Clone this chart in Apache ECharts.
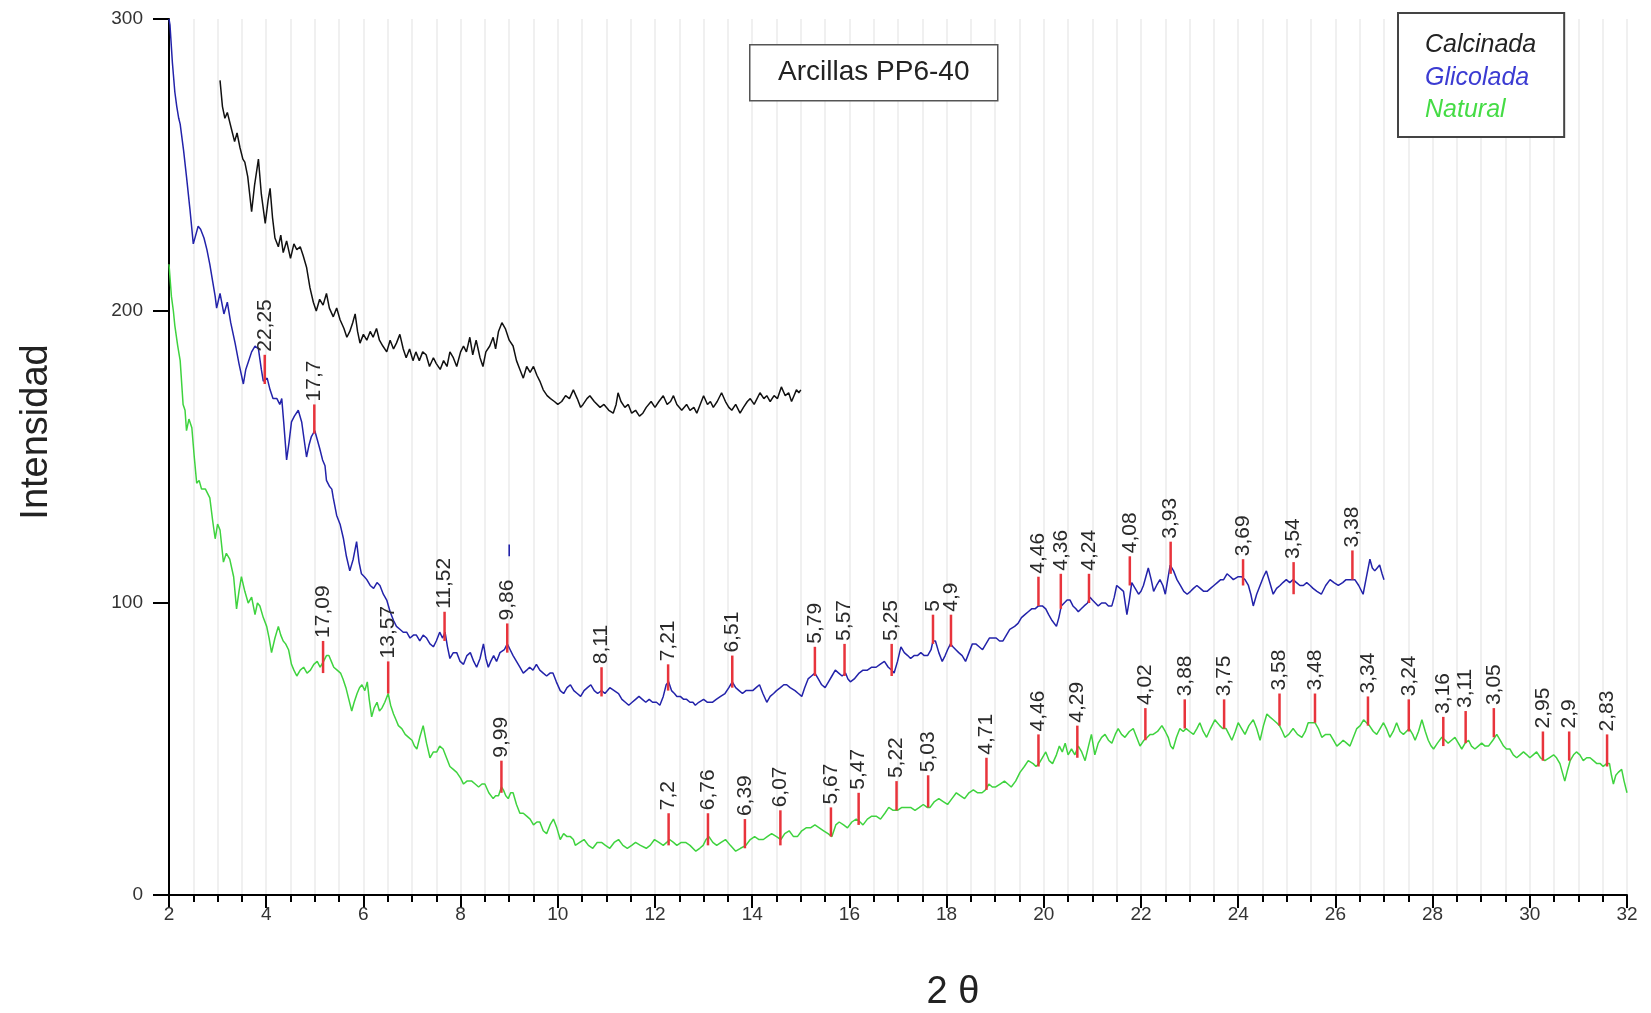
<!DOCTYPE html>
<html>
<head>
<meta charset="utf-8">
<title>Arcillas PP6-40</title>
<script src="https://cdn.jsdelivr.net/npm/echarts@6/dist/echarts.min.js"></script>
<style>
  html, body { margin: 0; padding: 0; background: #fff; }
  #chart { width: 1651px; height: 1013px; }
</style>
</head>
<body>
<div id="chart"></div>
<script>
// curvas de difraccion (2 theta, intensidad)
const calcX = [3.05,3.10,3.15,3.20,3.29,3.35,3.40,3.46,3.52,3.56,3.62,3.70,3.76,3.84,3.90,3.98,4.04,4.08,4.13,4.18,4.25,4.30,4.35,4.42,4.50,4.57,4.63,4.70,4.76,4.83,4.90,4.97,5.03,5.10,5.17,5.24,5.30,5.38,5.45,5.52,5.60,5.66,5.72,5.78,5.83,5.88,5.93,6.00,6.07,6.14,6.20,6.27,6.33,6.40,6.48,6.55,6.62,6.68,6.75,6.82,6.88,6.95,7.02,7.08,7.15,7.22,7.29,7.36,7.44,7.50,7.58,7.65,7.72,7.78,7.85,7.92,8.00,8.06,8.12,8.19,8.25,8.32,8.40,8.46,8.52,8.60,8.67,8.72,8.78,8.85,8.92,9.00,9.08,9.15,9.22,9.29,9.36,9.43,9.50,9.57,9.63,9.70,9.78,9.85,9.93,10.00,10.08,10.16,10.24,10.32,10.40,10.47,10.52,10.60,10.66,10.75,10.87,10.95,11.05,11.14,11.20,11.24,11.30,11.38,11.45,11.52,11.60,11.68,11.75,11.82,11.92,12.00,12.08,12.17,12.25,12.32,12.38,12.45,12.55,12.65,12.72,12.80,12.86,12.93,13.00,13.08,13.14,13.20,13.28,13.37,13.45,13.52,13.58,13.66,13.75,13.82,13.90,13.96,14.04,14.10,14.16,14.24,14.30,14.37,14.45,14.52,14.60,14.68,14.75,14.81,14.86,14.91,14.96,15.00];
const calcY = [279,270,266,268,262,258,261,256,252,251,246,234,243,252,240,230,238,242,232,225,222,226,220,224,218,223,221,222,219,215,208,203,200,204,202,206,201,198,201,197,194,191,193,196,199,193,189,192,190,193,191,194,190,188,186,190,187,189,192,187,184,187,183,186,183,186,185,181,184,182,180,183,181,186,184,181,186,188,186,191,185,190,184,181,186,188,191,187,193,196,194,190,188,183,180,177,181,179,181,178,176,173,171,170,169,168,169,171,170,173,170,167,168,170,171,169,167,168,166,165,168,172,169,167,168,165,166,164,165,167,169,167,169,171,168,169,171,168,166,168,166,167,165,168,171,168,169,167,169,172,169,167,166,168,165,167,169,170,168,170,172,170,171,169,171,170,174,171,172,169,171,173,172,173];

const glicX = [2.00,2.02,2.07,2.12,2.16,2.20,2.23,2.30,2.36,2.43,2.50,2.55,2.60,2.65,2.72,2.78,2.84,2.90,2.95,2.98,3.05,3.13,3.20,3.27,3.36,3.44,3.53,3.58,3.64,3.70,3.77,3.84,3.90,3.94,4.02,4.08,4.14,4.22,4.28,4.32,4.36,4.42,4.47,4.52,4.58,4.66,4.73,4.78,4.83,4.88,4.93,5.00,5.05,5.10,5.16,5.21,5.24,5.30,5.35,5.38,5.45,5.52,5.59,5.65,5.72,5.79,5.86,5.91,5.96,6.02,6.07,6.14,6.21,6.28,6.34,6.41,6.48,6.55,6.62,6.68,6.75,6.82,6.89,6.96,7.03,7.09,7.16,7.23,7.30,7.37,7.44,7.50,7.57,7.63,7.68,7.73,7.78,7.85,7.92,7.99,8.06,8.13,8.20,8.27,8.33,8.40,8.47,8.52,8.57,8.62,8.68,8.74,8.81,8.90,8.96,9.02,9.08,9.15,9.22,9.29,9.36,9.42,9.49,9.56,9.63,9.70,9.77,9.84,9.90,9.97,10.05,10.12,10.19,10.26,10.33,10.40,10.47,10.54,10.61,10.68,10.75,10.82,10.90,10.97,11.07,11.16,11.25,11.32,11.39,11.46,11.53,11.60,11.67,11.74,11.81,11.88,11.95,12.03,12.10,12.17,12.23,12.28,12.34,12.40,12.45,12.52,12.59,12.65,12.72,12.78,12.83,12.90,13.00,13.08,13.18,13.26,13.35,13.44,13.52,13.59,13.66,13.73,13.80,13.87,13.94,14.01,14.08,14.15,14.22,14.30,14.37,14.44,14.50,14.58,14.65,14.71,14.78,14.88,14.95,15.02,15.08,15.15,15.22,15.29,15.36,15.43,15.50,15.57,15.64,15.71,15.78,15.85,15.92,15.97,16.02,16.10,16.20,16.28,16.37,16.46,16.55,16.63,16.72,16.80,16.87,16.92,16.99,17.06,17.13,17.20,17.26,17.33,17.40,17.47,17.54,17.61,17.68,17.72,17.77,17.84,17.91,17.97,18.02,18.08,18.13,18.19,18.25,18.32,18.39,18.46,18.53,18.60,18.67,18.74,18.81,18.88,18.95,19.02,19.09,19.16,19.23,19.30,19.40,19.47,19.54,19.61,19.68,19.75,19.82,19.89,19.97,20.04,20.10,20.17,20.26,20.31,20.36,20.42,20.48,20.54,20.60,20.66,20.71,20.77,20.83,20.90,20.95,21.00,21.06,21.12,21.19,21.27,21.33,21.40,21.45,21.50,21.57,21.64,21.71,21.76,21.81,21.88,21.95,22.00,22.05,22.10,22.15,22.21,22.26,22.32,22.39,22.45,22.50,22.55,22.60,22.67,22.74,22.81,22.88,22.95,23.02,23.08,23.15,23.22,23.29,23.36,23.43,23.50,23.57,23.64,23.70,23.77,23.84,23.90,23.94,24.00,24.07,24.14,24.21,24.26,24.31,24.38,24.45,24.52,24.58,24.65,24.72,24.79,24.86,24.92,24.99,25.06,25.13,25.20,25.27,25.34,25.41,25.48,25.54,25.62,25.71,25.80,25.89,25.97,26.06,26.15,26.22,26.27,26.34,26.40,26.48,26.57,26.64,26.71,26.76,26.81,26.86,26.91,26.96,27.00];
const glicY = [300,298,285,275,270,266,264,255,246,235,223,226,229,228,225,221,216,210,205,201,206,199,203,196,189,182,175,180,183,186,188,187,180,176,177,173,170,170,168,170,162,149,155,162,164,166,162,156,150,154,157,159,156,153,149,147,142,140,139,136,130,127,122,116,111,115,121,114,110,109,108,106,105,107,106,103,101,97,94,92,91,90,90,88,89,89,87,89,88,86,85,87,90,88,90,85,81,83,83,80,79,82,83,80,78,81,86,81,78,80,82,80,83,84,86,84,82,80,78,76,77,78,77,79,77,76,75,76,76,73,70,69,71,72,70,69,68,70,71,72,70,69,70,69,71,70,69,67,66,65,66,67,68,67,66,67,66,66,65,68,72,73,70,69,68,68,67,67,66,66,65,66,67,66,66,67,68,69,71,73,71,70,69,70,70,70,71,72,69,66,68,69,70,71,72,72,71,70,69,68,71,74,75,76,74,72,71,73,75,77,76,75,76,74,73,74,76,77,77,78,78,79,80,78,77,76,80,85,83,82,81,82,82,83,82,82,84,87,87,83,80,82,84,86,85,84,83,82,80,83,86,86,85,84,86,88,88,88,87,87,89,91,92,93,95,96,97,98,98,99,99,98,96,94,92,95,99,100,101,101,99,98,97,98,99,100,102,101,100,99,100,100,99,99,102,106,105,104,96,101,107,105,103,104,106,109,112,108,104,106,108,106,103,108,113,111,108,106,104,103,104,105,106,105,104,104,105,106,107,108,108,110,109,108,108,109,109,108,106,103,99,103,106,109,111,107,103,105,106,107,108,107,108,107,106,106,107,106,105,104,103,106,108,107,106,107,108,108,108,108,106,103,109,115,112,111,112,113,110,108];

const natX = [2.00,2.05,2.09,2.12,2.18,2.23,2.29,2.33,2.36,2.41,2.47,2.52,2.57,2.62,2.67,2.75,2.84,2.90,2.95,3.00,3.05,3.12,3.18,3.25,3.33,3.39,3.44,3.49,3.56,3.63,3.70,3.77,3.82,3.87,3.94,4.01,4.06,4.11,4.18,4.25,4.30,4.35,4.40,4.46,4.52,4.57,4.63,4.70,4.77,4.84,4.91,4.98,5.05,5.11,5.18,5.24,5.29,5.34,5.39,5.46,5.53,5.58,5.64,5.70,5.76,5.81,5.87,5.92,5.97,6.03,6.08,6.12,6.17,6.22,6.28,6.33,6.38,6.44,6.51,6.56,6.62,6.67,6.72,6.79,6.86,6.93,7.00,7.05,7.10,7.16,7.23,7.30,7.37,7.44,7.51,7.57,7.64,7.71,7.78,7.85,7.92,8.00,8.06,8.13,8.23,8.30,8.37,8.44,8.50,8.58,8.67,8.72,8.78,8.84,8.88,8.93,8.98,9.03,9.08,9.15,9.22,9.29,9.36,9.43,9.50,9.57,9.63,9.70,9.77,9.84,9.91,9.98,10.05,10.12,10.19,10.26,10.32,10.36,10.45,10.54,10.63,10.72,10.81,10.90,10.98,11.07,11.16,11.25,11.34,11.43,11.52,11.60,11.70,11.82,11.90,11.99,12.08,12.17,12.24,12.30,12.38,12.45,12.54,12.63,12.72,12.84,12.92,12.99,13.05,13.11,13.19,13.27,13.36,13.45,13.55,13.66,13.76,13.87,13.96,14.05,14.14,14.23,14.31,14.40,14.50,14.59,14.67,14.76,14.85,14.93,15.02,15.11,15.20,15.29,15.38,15.47,15.56,15.64,15.72,15.79,15.88,15.96,16.05,16.14,16.22,16.28,16.37,16.46,16.55,16.64,16.73,16.81,16.90,16.99,17.08,17.17,17.26,17.35,17.44,17.52,17.60,17.66,17.75,17.84,17.93,18.02,18.11,18.20,18.28,18.37,18.46,18.55,18.64,18.73,18.80,18.87,18.94,19.01,19.10,19.19,19.26,19.33,19.42,19.51,19.60,19.68,19.78,19.84,19.90,19.97,20.04,20.11,20.18,20.26,20.32,20.38,20.44,20.50,20.57,20.64,20.71,20.78,20.85,20.92,20.98,21.05,21.12,21.19,21.26,21.33,21.40,21.47,21.53,21.60,21.67,21.76,21.84,21.91,21.98,22.06,22.13,22.19,22.25,22.34,22.43,22.50,22.56,22.61,22.66,22.73,22.80,22.87,22.93,23.00,23.08,23.15,23.21,23.28,23.35,23.43,23.52,23.57,23.62,23.68,23.75,23.81,23.87,23.94,24.00,24.07,24.14,24.22,24.31,24.38,24.45,24.52,24.59,24.65,24.72,24.79,24.85,24.91,24.96,25.04,25.13,25.22,25.31,25.38,25.44,25.51,25.58,25.65,25.72,25.80,25.89,25.96,26.03,26.10,26.16,26.23,26.30,26.37,26.44,26.51,26.58,26.64,26.70,26.78,26.85,26.92,26.99,27.05,27.12,27.19,27.26,27.33,27.40,27.46,27.52,27.59,27.64,27.71,27.78,27.85,27.91,27.97,28.02,28.10,28.19,28.26,28.32,28.39,28.46,28.53,28.60,28.67,28.74,28.80,28.87,28.94,29.01,29.08,29.15,29.24,29.32,29.39,29.46,29.52,29.59,29.66,29.73,29.80,29.87,29.94,30.00,30.07,30.14,30.22,30.31,30.40,30.49,30.55,30.62,30.67,30.72,30.78,30.83,30.90,30.96,31.03,31.10,31.17,31.24,31.31,31.38,31.45,31.51,31.58,31.64,31.68,31.72,31.77,31.82,31.89,31.94,32.00];
const natY = [216,205,200,195,188,183,168,166,159,163,160,150,141,142,139,139,136,128,122,127,125,114,117,115,109,98,104,109,104,100,102,96,100,99,95,92,88,83,88,92,89,87,86,84,79,77,75,77,78,76,77,79,80,78,80,82,82,80,78,77,76,74,71,67,63,66,69,71,72,70,73,67,61,64,66,63,64,66,69,65,62,60,58,57,55,54,53,51,50,54,58,52,47,49,49,51,50,47,44,43,42,40,38,39,39,38,37,38,38,35,33,34,34,37,36,34,33,35,35,31,28,28,27,26,24,25,25,22,21,24,26,23,19,21,20,20,19,17,18,19,17,16,18,18,17,16,18,19,17,16,17,18,17,16,17,19,18,17,18,19,18,17,18,18,17,15,16,17,19,20,18,17,18,19,17,15,16,17,19,20,19,19,20,21,20,19,21,22,20,20,22,23,23,24,23,22,21,20,24,25,24,23,25,26,25,24,26,27,27,26,28,30,29,29,30,30,30,29,30,31,30,30,32,33,32,31,33,35,34,33,35,36,35,35,36,38,37,37,38,39,38,37,39,42,44,46,45,44,45,47,49,46,45,48,51,49,52,48,50,48,51,49,46,51,55,48,52,54,55,53,52,55,57,55,54,56,57,54,51,53,54,55,55,56,58,56,54,51,50,54,57,56,57,56,55,57,59,56,54,57,60,59,58,57,57,55,53,56,59,57,55,58,60,57,53,58,62,61,60,59,58,56,54,55,57,55,54,56,59,59,59,57,54,55,55,53,51,52,53,52,51,54,57,58,60,59,58,56,55,57,59,57,54,56,59,56,55,56,57,55,53,56,60,56,53,51,50,52,54,53,52,53,54,52,50,52,53,51,50,51,52,51,51,53,55,53,51,50,50,48,47,48,49,48,47,48,49,47,46,47,48,47,45,42,39,43,46,48,49,48,46,47,47,46,45,45,44,45,45,41,38,41,42,43,39,35];

// picos marcados (posicion 2 theta, espaciado d, base y punta del trazo rojo)
const glicPeakX = [3.97,4.99,7.67,8.96,10.90,12.27,13.59,15.29,15.90,16.87,17.72,18.09,19.89,20.35,20.93,21.77,22.61,24.10,25.14,26.35];
const glicPeakLabels = ['22,25','17,7','11,52','9,86','8,11','7,21','6,51','5,79','5,57','5,25','5','4,9','4,46','4,36','4,24','4,08','3,93','3,69','3,54','3,38'];
const glicPeakBase = [175,158,87,83,68,70,71,75,75,75,86,85,99,98,100,106,110,106,103,108];
const glicPeakTop = [185,168,97,93,78,79,82,85,86,86,96,96,109,110,110,116,121,115,114,118];

const natPeakX = [5.17,6.51,8.84,12.28,13.09,13.85,14.58,15.62,16.19,16.97,17.62,18.82,19.89,20.69,22.09,22.90,23.71,24.85,25.58,26.67,27.51,28.22,28.68,29.26,30.27,30.81,31.59];
const natPeakLabels = ['17,09','13,57','9,99','7,2','6,76','6,39','6,07','5,67','5,47','5,22','5,03','4,71','4,46','4,29','4,02','3,88','3,75','3,58','3,48','3,34','3,24','3,16','3,11','3,05','2,95','2,9','2,83'];
const natPeakBase = [76,69,35,17,17,16,17,20,24,29,30,36,44,47,53,57,57,58,59,58,56,51,52,54,46,46,44];
const natPeakTop = [87,80,46,28,28,26,29,30,35,39,41,47,55,58,64,67,67,69,69,68,67,61,63,64,56,56,55];

// trazo azul suelto cerca de 9 grados
const strayX = [9.00, 9.00];
const strayY = [116, 120];

const FONT = '"Liberation Sans", Arial, sans-serif';

function zip(xs, ys) {
  return xs.map((x, i) => [x, ys[i]]);
}

function peakSeries(xs, base, top, labels) {
  return {
    type: 'custom',
    silent: true,
    z: 5,
    data: xs.map((x, i) => [x, base[i], top[i]]),
    renderItem: function (params, api) {
      const p0 = api.coord([api.value(0), api.value(1)]);
      const p1 = api.coord([api.value(0), api.value(2)]);
      return {
        type: 'group',
        children: [
          {
            type: 'line',
            shape: { x1: p0[0], y1: p0[1], x2: p1[0], y2: p1[1] },
            style: { stroke: '#e8343c', lineWidth: 2.5 }
          },
          {
            type: 'text',
            x: p1[0],
            y: p1[1] - 3,
            rotation: Math.PI / 2,
            style: {
              text: labels[params.dataIndex],
              fill: '#2a2a2a',
              font: '21px ' + FONT,
              align: 'left',
              verticalAlign: 'middle'
            }
          }
        ]
      };
    }
  };
}

const chart = echarts.init(document.getElementById('chart'));

chart.setOption({
  animation: false,
  backgroundColor: '#fff',
  grid: { left: 169, right: 24, top: 19, bottom: 118 },
  legend: {
    orient: 'vertical',
    left: 1398,
    top: 13,
    z: 20,
    icon: 'none',
    itemWidth: 1,
    itemHeight: 25,
    itemGap: 7.5,
    itemTextGap: 0,
    padding: [20, 28, 14, 21],
    borderColor: '#444',
    borderWidth: 2,
    borderRadius: 0,
    backgroundColor: '#fff',
    selectedMode: false,
    textStyle: { fontFamily: FONT, fontSize: 25, fontStyle: 'italic', lineHeight: 25 },
    data: [
      { name: 'Calcinada', textStyle: { color: '#222' } },
      { name: 'Glicolada', textStyle: { color: '#3b3bd2' } },
      { name: 'Natural', textStyle: { color: '#45dc45' } }
    ]
  },
  xAxis: {
    type: 'value',
    min: 2,
    max: 32,
    interval: 2,
    axisLine: { lineStyle: { color: '#000', width: 2 } },
    axisTick: { length: 13, lineStyle: { color: '#000', width: 2 } },
    minorTick: { show: true, splitNumber: 4, length: 7, lineStyle: { color: '#000', width: 2 } },
    axisLabel: { color: '#333', fontSize: 19, fontFamily: FONT, margin: 10 },
    splitLine: { show: true, lineStyle: { color: '#ebebeb', width: 1.5 } },
    minorSplitLine: { show: true, lineStyle: { color: '#ebebeb', width: 1.5 } }
  },
  yAxis: {
    type: 'value',
    min: 0,
    max: 300,
    interval: 100,
    axisLine: { show: true, lineStyle: { color: '#000', width: 2 } },
    axisTick: { show: true, length: 16, lineStyle: { color: '#000', width: 2 } },
    axisLabel: { color: '#333', fontSize: 19, fontFamily: FONT, margin: 26 },
    splitLine: { show: false }
  },
  graphic: [
    {
      type: 'text',
      x: 37,
      y: 432,
      rotation: Math.PI / 2,
      style: { text: 'Intensidad', fill: '#222', font: '38px ' + FONT, align: 'center', verticalAlign: 'middle' }
    },
    {
      type: 'text',
      x: 953,
      y: 993,
      style: { text: '2 θ', fill: '#222', font: '38px ' + FONT, align: 'center', verticalAlign: 'middle' }
    },
    {
      type: 'group',
      left: 749,
      top: 44,
      z: 20,
      children: [
        {
          type: 'rect',
          z: 20,
          shape: { x: 0, y: 0, width: 248, height: 56 },
          style: { fill: '#fff', stroke: '#555', lineWidth: 1.5 }
        },
        {
          type: 'text',
          z: 21,
          x: 124,
          y: 28,
          style: { text: 'Arcillas PP6-40', fill: '#222', font: '28px ' + FONT, align: 'center', verticalAlign: 'middle' }
        }
      ]
    }
  ],
  series: [
    {
      name: 'Calcinada',
      type: 'line',
      symbol: 'none',
      data: zip(calcX, calcY),
      lineStyle: { color: '#111', width: 1.5 },
      itemStyle: { color: '#111' }
    },
    {
      name: 'Glicolada',
      type: 'line',
      symbol: 'none',
      data: zip(glicX, glicY),
      lineStyle: { color: '#2323aa', width: 1.5 },
      itemStyle: { color: '#2323aa' }
    },
    {
      name: 'glicStray',
      type: 'line',
      symbol: 'none',
      data: zip(strayX, strayY),
      lineStyle: { color: '#2323aa', width: 1.6 }
    },
    {
      name: 'Natural',
      type: 'line',
      symbol: 'none',
      data: zip(natX, natY),
      lineStyle: { color: '#3fd33f', width: 1.5 },
      itemStyle: { color: '#3fd33f' }
    },
    peakSeries(glicPeakX, glicPeakBase, glicPeakTop, glicPeakLabels),
    peakSeries(natPeakX, natPeakBase, natPeakTop, natPeakLabels)
  ]
});
</script>
</body>
</html>
